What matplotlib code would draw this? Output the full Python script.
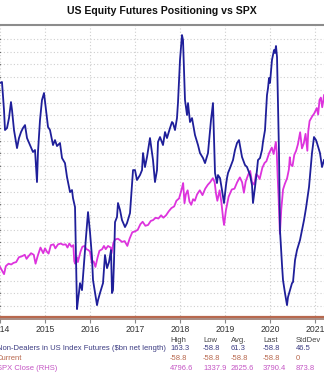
import numpy as np
import matplotlib
matplotlib.use("Agg")
import matplotlib.pyplot as plt
from matplotlib import font_manager

# ---------------- data ----------------
# Non-Dealers in US Index Futures ($bn net length): (year fraction, value)
nd_years = [2014.000, 2014.044, 2014.089, 2014.111, 2014.156, 2014.200, 2014.244, 2014.267, 2014.311, 2014.378,
            2014.422, 2014.467, 2014.511, 2014.556, 2014.600, 2014.667, 2014.733, 2014.778, 2014.822, 2014.844,
            2014.889, 2014.933, 2014.978, 2015.022, 2015.067, 2015.111, 2015.178, 2015.222, 2015.267, 2015.333,
            2015.378, 2015.444, 2015.489, 2015.556, 2015.600, 2015.622, 2015.667, 2015.689, 2015.711, 2015.733,
            2015.756, 2015.778, 2015.822, 2015.867, 2015.911, 2015.956, 2015.978, 2016.000, 2016.044, 2016.067,
            2016.111, 2016.156, 2016.178, 2016.222, 2016.289, 2016.333, 2016.378, 2016.422, 2016.467, 2016.489,
            2016.511, 2016.533, 2016.556, 2016.600, 2016.622, 2016.667, 2016.711, 2016.778, 2016.822, 2016.889,
            2016.956, 2017.000, 2017.044, 2017.111, 2017.156, 2017.178, 2017.222, 2017.267, 2017.333, 2017.400,
            2017.444, 2017.489, 2017.511, 2017.556, 2017.622, 2017.667, 2017.711, 2017.778, 2017.822, 2017.844,
            2017.889, 2017.933, 2017.956, 2018.000, 2018.044, 2018.067, 2018.089, 2018.111, 2018.156, 2018.178,
            2018.222, 2018.267, 2018.333, 2018.400, 2018.444, 2018.511, 2018.556, 2018.622, 2018.667, 2018.689,
            2018.733, 2018.756, 2018.778, 2018.822, 2018.844, 2018.889, 2018.933, 2018.978, 2019.022, 2019.044,
            2019.067, 2019.111, 2019.178, 2019.222, 2019.267, 2019.311, 2019.378, 2019.444, 2019.489, 2019.556,
            2019.600, 2019.622, 2019.667, 2019.711, 2019.733, 2019.778, 2019.822, 2019.844, 2019.889, 2019.933,
            2019.956, 2019.978, 2020.000, 2020.044, 2020.089, 2020.111, 2020.133, 2020.156, 2020.178, 2020.200,
            2020.222, 2020.267, 2020.289, 2020.333, 2020.378, 2020.400, 2020.444, 2020.489, 2020.511, 2020.556,
            2020.600, 2020.667, 2020.711, 2020.756, 2020.800, 2020.867, 2020.933, 2020.978, 2021.022, 2021.044,
            2021.111, 2021.156, 2021.200]
nd_values = [125.4, 126.2, 104.1, 88.4, 90.0, 97.8, 110.4, 104.1, 88.4, 74.2,
             82.1, 86.8, 90.0, 92.3, 82.1, 76.6, 71.1, 72.7, 47.5, 71.1,
             96.3, 112.0, 117.5, 104.1, 90.8, 88.4, 76.6, 80.5, 75.8, 78.2,
             66.4, 62.4, 51.4, 39.6, 41.2, 34.9, 27.8, -13.9, -52.4, -45.4,
             -39.1, -32.0, -37.5, -16.2, 4.2, 23.9, 16.0, 8.1, -11.5, -29.6,
             -39.1, -49.3, -45.4, -39.8, -32.0, -9.9, -20.2, -15.5, -6.0, -39.8,
             -37.5, -15.5, 16.0, 20.0, 31.0, 25.5, 17.6, 12.1, 15.2, 23.1,
             56.9, 56.9, 49.1, 53.0, 56.9, 70.3, 59.3, 67.2, 82.1, 64.8,
             47.5, 56.9, 79.0, 82.9, 76.6, 86.8, 82.1, 90.0, 94.7, 93.9,
             88.4, 97.8, 110.4, 143.5, 163.1, 159.2, 135.6, 112.0, 100.2, 109.6,
             94.7, 97.8, 84.5, 76.6, 70.3, 66.4, 62.4, 70.3, 88.4, 96.3,
             109.6, 80.5, 54.6, 46.7, 53.0, 50.6, 41.2, 31.0, 45.1, 50.6,
             54.6, 58.5, 64.8, 72.7, 78.2, 80.5, 67.2, 60.9, 59.3, 53.0,
             45.1, 31.0, 43.6, 56.9, 64.8, 66.4, 72.7, 79.0, 88.4, 115.9,
             121.4, 129.3, 125.4, 143.5, 151.3, 149.0, 154.5, 145.8, 109.6, 70.3,
             9.7, -17.8, -29.6, -39.8, -49.3, -43.0, -37.5, -32.0, -31.2, -13.9,
             -6.0, 1.9, 9.7, 17.6, 27.0, 43.6, 70.3, 82.9, 80.5, 78.2,
             70.3, 59.3, 64.8]

# SPX Close (RHS)
spx_years = [2014.00, 2014.04, 2014.09, 2014.13, 2014.19, 2014.25, 2014.30, 2014.36, 2014.42, 2014.48,
             2014.55, 2014.59, 2014.63, 2014.69, 2014.75, 2014.79, 2014.84, 2014.90, 2014.96, 2015.00,
             2015.04, 2015.08, 2015.13, 2015.19, 2015.23, 2015.29, 2015.35, 2015.40, 2015.46, 2015.50,
             2015.54, 2015.59, 2015.63, 2015.65, 2015.67, 2015.71, 2015.73, 2015.79, 2015.83, 2015.88,
             2015.92, 2015.96, 2016.00, 2016.04, 2016.08, 2016.12, 2016.17, 2016.21, 2016.27, 2016.31,
             2016.35, 2016.40, 2016.46, 2016.48, 2016.52, 2016.56, 2016.62, 2016.67, 2016.71, 2016.77,
             2016.83, 2016.88, 2016.94, 2017.00, 2017.06, 2017.12, 2017.17, 2017.23, 2017.29, 2017.35,
             2017.40, 2017.46, 2017.52, 2017.58, 2017.63, 2017.69, 2017.75, 2017.81, 2017.87, 2017.92,
             2017.98, 2018.04, 2018.07, 2018.10, 2018.13, 2018.17, 2018.21, 2018.25, 2018.29, 2018.33,
             2018.38, 2018.44, 2018.50, 2018.56, 2018.62, 2018.67, 2018.73, 2018.77, 2018.80, 2018.83,
             2018.88, 2018.92, 2018.96, 2018.98, 2019.02, 2019.08, 2019.15, 2019.21, 2019.27, 2019.33,
             2019.38, 2019.42, 2019.46, 2019.52, 2019.56, 2019.60, 2019.65, 2019.69, 2019.73, 2019.77,
             2019.83, 2019.88, 2019.92, 2019.98, 2020.04, 2020.08, 2020.13, 2020.15, 2020.17, 2020.19,
             2020.21, 2020.22, 2020.25, 2020.29, 2020.33, 2020.38, 2020.42, 2020.44, 2020.46, 2020.50,
             2020.54, 2020.58, 2020.62, 2020.67, 2020.69, 2020.71, 2020.75, 2020.79, 2020.83, 2020.85,
             2020.88, 2020.94, 2020.98, 2021.04, 2021.07, 2021.10, 2021.13, 2021.16, 2021.19, 2021.20]
spx_values = [1830, 1790, 1740, 1840, 1870, 1860, 1880, 1890, 1950, 1960,
              1980, 1930, 1960, 2000, 1980, 1870, 1970, 2070, 2000, 2060,
              2020, 1995, 2100, 2110, 2060, 2110, 2120, 2105, 2110, 2070,
              2120, 2080, 2100, 1900, 1870, 1950, 1890, 2020, 2080, 2090,
              2050, 2040, 2020, 1880, 1900, 1830, 1950, 2030, 2050, 2090,
              2050, 2090, 2070, 2000, 2130, 2170, 2180, 2160, 2140, 2150,
              2090, 2180, 2260, 2270, 2290, 2360, 2390, 2340, 2350, 2400,
              2410, 2440, 2430, 2470, 2440, 2470, 2520, 2560, 2580, 2650,
              2680, 2800, 2870, 2620, 2730, 2780, 2640, 2600, 2670, 2650,
              2730, 2780, 2720, 2800, 2850, 2880, 2930, 2880, 2740, 2650,
              2780, 2630, 2420, 2350, 2530, 2700, 2790, 2800, 2880, 2940,
              2880, 2750, 2890, 2980, 3020, 2880, 2850, 2980, 2960, 2920,
              3060, 3120, 3140, 3240, 3310, 3230, 3380, 3250, 2950, 2700,
              2400, 2240, 2540, 2790, 2860, 2930, 3040, 3190, 3100, 3080,
              3220, 3270, 3350, 3500, 3400, 3300, 3360, 3480, 3270, 3510,
              3640, 3700, 3730, 3800, 3720, 3900, 3930, 3810, 3910, 3960]

current_value = -58.8
year_ticks = [2014, 2015, 2016, 2017, 2018, 2019, 2020, 2021]
year_labels = ["2014", "2015", "2016", "2017", "2018", "2019", "2020", "2021"]

stat_headers = ["High", "Low", "Avg.", "Last", "StdDev"]
row_labels = ["Non-Dealers in US Index Futures ($bn net length)", "Current", "SPX Close (RHS)"]
row_stats = [["163.3", "-58.8", "61.3", "-58.8", "46.5"],
             ["-58.8", "-58.8", "-58.8", "-58.8", "0"],
             ["4796.6", "1337.9", "2625.6", "3790.4", "873.8"]]

title = "US Equity Futures Positioning vs SPX"

# ---------------- style ----------------
W, H = 324, 374
fonts = font_manager.fontManager.ttflist
names = {f.name for f in fonts}
title_kw = dict(fontweight='bold', family=['Liberation Sans', 'DejaVu Sans'], fontsize=7.6)
if "Liberation Sans Narrow" in names:
    title_kw = dict(fontweight='bold', family=['Liberation Sans Narrow', 'DejaVu Sans'], fontsize=9.0)
plt.rcParams['font.family'] = ['Liberation Sans', 'DejaVu Sans']

c_nd = '#1f1f9a'
c_spx = '#dd33dd'
c_cur = '#b8684e'
c_nd_txt = '#3c3c82'
c_spx_txt = '#c455c4'

fig = plt.figure(figsize=(W / 100, H / 100), dpi=100)
top_px, bot_px = 25, 319
ax = fig.add_axes([0, 1 - bot_px / H, 1, (bot_px - top_px) / H])
ax.set_xlim(2014.0, 2021.2)
ax.set_ylim(-60.2, 171)

ax.set_yticks(np.arange(-50, 161, 10))
ax.tick_params(axis='y', left=False, labelleft=False)
ax.set_xticks(year_ticks)
ax.set_xticklabels(year_labels)
ax.tick_params(axis='x', length=3, width=0.8, color='#888888', labelsize=6.2,
               labelcolor='#333333', pad=1.5)
ax.grid(True, color='#cfcfcf', linestyle=(0, (1, 2)), linewidth=0.8)
ax.set_axisbelow(True)

for s in ['left', 'right']:
    ax.spines[s].set_visible(False)
ax.spines['top'].set_color('#8c8c8c')
ax.spines['top'].set_linewidth(1.5)
ax.spines['bottom'].set_color('#9a7a70')
ax.spines['bottom'].set_linewidth(1.2)

ax.axhline(current_value, color=c_cur, lw=1.6, zorder=2)

ax2 = ax.twinx()
ax2.set_ylim(1184, 4830)
ax2.set_yticks([])
for s in ax2.spines.values():
    s.set_visible(False)
ax2.plot(spx_years, spx_values, color=c_spx, lw=1.3, zorder=3)

ax3 = ax.twinx()
ax3.set_ylim(ax.get_ylim())
ax3.set_yticks([])
for s in ax3.spines.values():
    s.set_visible(False)
ax3.plot(nd_years, nd_values, color=c_nd, lw=1.3, zorder=4)

# title
fig.text(162 / W, 1 - 10.5 / H, title, ha='center', va='center', color='#111111', **title_kw)

# stats table
col_x = [170, 203, 231, 263, 296]
hdr_y = 340
row_y = [349, 358, 368]
fs = 5.5
for cx, h in zip(col_x, stat_headers):
    fig.text(cx / W, 1 - hdr_y / H, h, ha='left', va='center', fontsize=fs, color='#444444')
row_colors = [c_nd_txt, c_cur, c_spx_txt]
for ry, lab, vals, col in zip(row_y, row_labels, row_stats, row_colors):
    fig.text(-3 / W, 1 - ry / H, lab, ha='left', va='center', fontsize=fs, color=col)
    for cx, v in zip(col_x, vals):
        fig.text(cx / W, 1 - ry / H, v, ha='left', va='center', fontsize=fs, color=col)

fig.savefig('out.png', dpi=100)
